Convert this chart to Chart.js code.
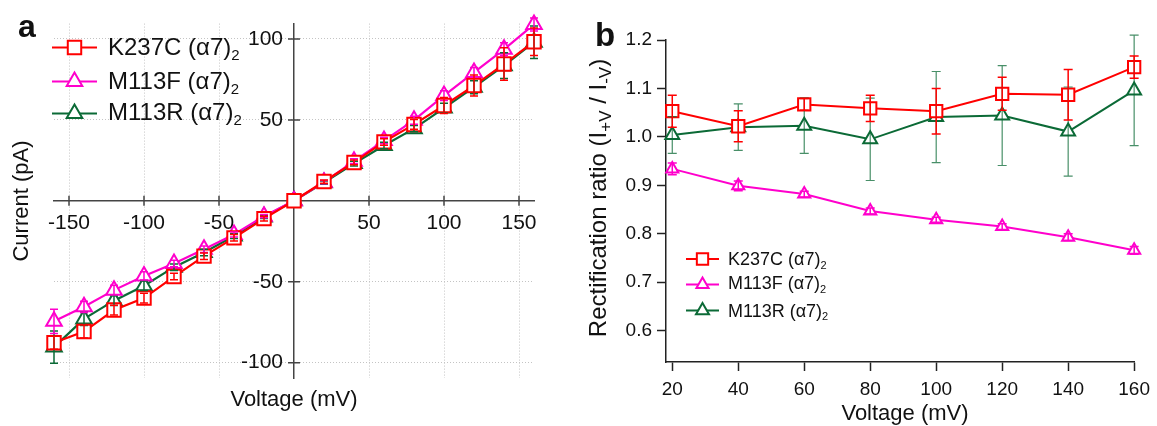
<!DOCTYPE html>
<html>
<head>
<meta charset="utf-8">
<script src="https://cdn.jsdelivr.net/npm/chart.js@4/dist/chart.umd.min.js"></script>
<style>
    html, body { margin: 0; padding: 0; background: #fff; }
    #wrap { position: relative; width: 1157px; height: 426px; overflow: hidden; }
    .panel { position: absolute; top: 0; height: 426px; }
</style>
</head>
<body>
<div id="wrap">
    <div class="panel" style="left:0;width:560px"><canvas id="chartA"></canvas></div>
    <div class="panel" style="left:560px;width:597px"><canvas id="chartB"></canvas></div>
</div>
<script>
(function () {
    'use strict';

    var FAM = '"Liberation Sans", Arial, Helvetica, sans-serif';
    var RED = '#ff0000', PINK = '#ff00cc', GREEN = '#0b6a36';
    var names = ['K237C (\u03b17)', 'M113F (\u03b17)', 'M113R (\u03b17)'];

    // panel a: current vs voltage
    var voltA = [-160, -140, -120, -100, -80, -60, -40, -20, 0, 20, 40, 60, 80, 100, 120, 140, 160];
    var k237cA = [-87.7, -80.8, -67.5, -60.1, -46.8, -34.2, -22.9, -11.0, 0, 11.9, 23.7, 36.4, 47.2, 58.9, 71.2, 84.5, 98.3];
    var m113fA = [-74.5, -65.5, -55.2, -46.4, -38.8, -30.0, -20.8, -9.5, 0, 11.5, 24.5, 37.2, 49.8, 65.0, 79.3, 93.6, 109.0];
    var m113rA = [-90.4, -73.0, -61.7, -52.5, -41.0, -32.0, -21.8, -10.0, 0, 11.2, 23.0, 34.2, 44.6, 57.3, 70.2, 83.5, 98.0];
    var k237cErrA = [4, 4, 3, 3, 2, 2, 2, 1.5, 0, 1, 1.5, 2, 3, 5, 6.5, 10, 8.5];
    var m113fErrA = [7.5, 3.5, 3, 2.5, 2, 2, 1.5, 1, 0, 1, 1.5, 2, 2.5, 3, 3, 4, 4];
    var m113rErrA = [10, 4, 3, 3, 2, 2, 1.5, 1, 0, 1, 1.5, 2, 2, 3, 4, 8, 10];
    var xTicksA = [-150, -100, -50, 50, 100, 150];
    var yTicksA = [-100, -50, 50, 100];

    // panel b: rectification ratio
    var voltB = [20, 40, 60, 80, 100, 120, 140, 160];
    var k237cB = [1.053, 1.022, 1.067, 1.059, 1.053, 1.089, 1.087, 1.144];
    var m113fB = [0.934, 0.899, 0.882, 0.847, 0.829, 0.815, 0.793, 0.766];
    var m113rB = [1.004, 1.020, 1.023, 0.995, 1.041, 1.044, 1.011, 1.096];
    var k237cErrB = [0.033, 0.032, 0.012, 0.027, 0.047, 0.034, 0.052, 0.023];
    var m113fErrB = [0.012, 0.010, 0.006, 0.006, 0.005, 0.006, 0.007, 0.008];
    var m113rErrB = [0.038, 0.048, 0.057, 0.085, 0.094, 0.103, 0.092, 0.114];
    var xTicksB = [20, 40, 60, 80, 100, 120, 140, 160];
    var yTicksB = [0.6, 0.7, 0.8, 0.9, 1.0, 1.1, 1.2];

    Chart.defaults.font.family = FAM;

    function pts(xs, ys) {
        return xs.map(function (x, i) { return { x: x, y: ys[i] }; });
    }

    function series(label, xs, ys, errs, color, style, r, errColor, errWidth) {
        return {
            label: label,
            data: pts(xs, ys),
            errors: errs,
            errColor: errColor || color,
            errWidth: errWidth || 1.5,
            borderColor: color,
            backgroundColor: '#fff',
            borderWidth: 2,
            pointStyle: style,
            pointRadius: r,
            pointHoverRadius: r,
            pointBorderWidth: 2,
            pointBorderColor: color,
            pointBackgroundColor: '#fff',
            tension: 0,
            clip: false,
        };
    }

    function marker(ctx, style, x, y, r) {
        ctx.beginPath();
        if (style === 'rect') {
            var s = Math.SQRT1_2 * r;
            ctx.rect(x - s, y - s, 2 * s, 2 * s);
        } else {
            var h = r * Math.sqrt(3) / 2;
            ctx.moveTo(x, y - r);
            ctx.lineTo(x + h, y + r / 2);
            ctx.lineTo(x - h, y + r / 2);
            ctx.closePath();
        }
        ctx.fillStyle = '#fff';
        ctx.fill();
        ctx.stroke();
    }

    // text with subscripts: parts = [[text, isSub], ...], y is the baseline
    function rich(ctx, parts, x, y, size, align, bold, subRatio) {
        var w = 0;
        var weight = bold ? 'bold ' : '';
        var subSize = Math.round(size * (subRatio || 0.62));
        parts.forEach(function (p) {
            ctx.font = weight + (p[1] ? subSize : size) + 'px ' + FAM;
            w += ctx.measureText(p[0]).width;
        });
        var cx = align === 'center' ? x - w / 2 : x;
        ctx.textAlign = 'left';
        ctx.textBaseline = 'alphabetic';
        parts.forEach(function (p) {
            ctx.font = weight + (p[1] ? subSize : size) + 'px ' + FAM;
            ctx.fillText(p[0], cx, y + (p[1] ? size * 0.22 : 0));
            cx += ctx.measureText(p[0]).width;
        });
    }

    var errorBars = {
        id: 'errorBars',
        afterDatasetsDraw: function (chart, args, opts) {
            var ctx = chart.ctx;
            var xs = chart.scales.x, ys = chart.scales.y;
            var cap = opts.cap || 4;
            for (var i = chart.data.datasets.length - 1; i >= 0; i--) {
                var ds = chart.data.datasets[i];
                if (!ds.errors) continue;
                ctx.save();
                ctx.strokeStyle = ds.errColor;
                ctx.lineWidth = ds.errWidth;
                ds.data.forEach(function (p, j) {
                    var e = ds.errors[j];
                    if (!e) return;
                    var px = xs.getPixelForValue(p.x);
                    var top = ys.getPixelForValue(p.y + e);
                    var bot = ys.getPixelForValue(p.y - e);
                    ctx.beginPath();
                    ctx.moveTo(px, top); ctx.lineTo(px, bot);
                    ctx.moveTo(px - cap, top); ctx.lineTo(px + cap, top);
                    ctx.moveTo(px - cap, bot); ctx.lineTo(px + cap, bot);
                    ctx.stroke();
                });
                ctx.restore();
            }
        }
    };

    function legendPlugin(cfg) {
        return {
            id: 'legendRows',
            afterDraw: function (chart) {
                var ctx = chart.ctx;
                chart.data.datasets.forEach(function (ds, i) {
                    var y = cfg.rows[i];
                    ctx.save();
                    ctx.strokeStyle = ds.borderColor;
                    ctx.lineWidth = ds.borderWidth;
                    ctx.beginPath();
                    ctx.moveTo(cfg.x0, y);
                    ctx.lineTo(cfg.x1, y);
                    ctx.stroke();
                    ctx.lineWidth = ds.pointBorderWidth;
                    marker(ctx, ds.pointStyle, (cfg.x0 + cfg.x1) / 2, y, cfg.r[i]);
                    ctx.fillStyle = '#111';
                    rich(ctx, [[ds.label, false], ['2', true]], cfg.tx, cfg.base[i], cfg.size, 'left');
                    ctx.restore();
                });
            }
        };
    }

    function textPlugin(items) {
        return {
            id: 'texts',
            afterDraw: function (chart) {
                var ctx = chart.ctx;
                items.forEach(function (it) {
                    ctx.save();
                    ctx.translate(it.x, it.y);
                    if (it.rot) ctx.rotate(-Math.PI / 2);
                    ctx.fillStyle = '#111';
                    rich(ctx, it.parts, 0, 0, it.size, it.align || 'center', it.bold, it.sub);
                    ctx.restore();
                });
            }
        };
    }

    // ticks that cross the centred axes of panel a
    var crossTicks = {
        id: 'crossTicks',
        afterDraw: function (chart) {
            var ctx = chart.ctx, x = chart.scales.x, y = chart.scales.y;
            var x0 = x.getPixelForValue(0), y0 = y.getPixelForValue(0);
            ctx.save();
            ctx.strokeStyle = '#444';
            ctx.lineWidth = 1.5;
            ctx.beginPath();
            x.ticks.forEach(function (t) {
                var px = x.getPixelForValue(t.value);
                ctx.moveTo(px, y0 - 5); ctx.lineTo(px, y0 + 5);
            });
            y.ticks.forEach(function (t) {
                var py = y.getPixelForValue(t.value);
                ctx.moveTo(x0 - 6, py); ctx.lineTo(x0 + 6, py);
            });
            ctx.stroke();
            ctx.restore();
        }
    };

    function fixedTicks(values) {
        return function (scale) {
            scale.ticks = values.map(function (v) { return { value: v }; });
        };
    }

    var dsA = [
        series(names[0], voltA, k237cA, k237cErrA, RED, 'rect', 9.5),
        series(names[1], voltA, m113fA, m113fErrA, PINK, 'triangle', 9),
        series(names[2], voltA, m113rA, m113rErrA, GREEN, 'triangle', 9),
    ];
    dsA.forEach(function (d) { d.borderWidth = 2.2; });

    new Chart(document.getElementById('chartA'), {
        type: 'line',
        data: { datasets: dsA },
        options: {
            responsive: true,
            maintainAspectRatio: false,
            animation: false,
            devicePixelRatio: 1,
            layout: { padding: { left: 54, right: 26, top: 23, bottom: 48 } },
            plugins: { legend: { display: false }, tooltip: { enabled: false }, errorBars: { cap: 4 } },
            scales: {
                x: {
                    type: 'linear', min: -160, max: 160, position: { y: 0 },
                    afterBuildTicks: fixedTicks(xTicksA),
                    ticks: { font: { size: 21 }, color: '#111', padding: 10, maxRotation: 0, autoSkip: false },
                    grid: { color: '#c4c4c4', lineWidth: 1, drawTicks: false },
                    border: { display: true, color: '#444', width: 1.5, dash: [1, 2] },
                },
                y: {
                    // symmetric x range, so the centre of the plot is x = 0
                    type: 'linear', min: -109.5, max: 109.5, position: 'center',
                    afterBuildTicks: fixedTicks(yTicksA),
                    ticks: { font: { size: 21 }, color: '#111', padding: 11 },
                    grid: { color: '#c4c4c4', lineWidth: 1, drawTicks: false },
                    border: { display: true, color: '#444', width: 1.5, dash: [1, 2] },
                },
            },
        },
        plugins: [
            errorBars, crossTicks,
            legendPlugin({ x0: 52, x1: 97, tx: 108, rows: [47.5, 81.5, 113.5], base: [55, 89, 120], size: 24, r: [9.5, 9, 9] }),
            textPlugin([
                { x: 18, y: 37, parts: [['a', false]], size: 32, bold: true, align: 'left' },
                { x: 28, y: 201, rot: true, parts: [['Current (pA)', false]], size: 22 },
                { x: 294, y: 406, parts: [['Voltage (mV)', false]], size: 22 },
            ]),
        ],
    });

    var dsB = [
        series(names[0], voltB, k237cB, k237cErrB, RED, 'rect', 8.7),
        series(names[1], voltB, m113fB, m113fErrB, PINK, 'triangle', 7),
        series(names[2], voltB, m113rB, m113rErrB, GREEN, 'triangle', 8, 'rgba(11,106,54,0.75)', 1.2),
    ];

    new Chart(document.getElementById('chartB'), {
        type: 'line',
        data: { datasets: dsB },
        options: {
            responsive: true,
            maintainAspectRatio: false,
            animation: false,
            devicePixelRatio: 1,
            layout: { padding: { left: 36, right: 20, top: 40, bottom: 20 } },
            plugins: { legend: { display: false }, tooltip: { enabled: false }, errorBars: { cap: 4.5 } },
            scales: {
                x: {
                    type: 'linear', min: 18.1, max: 160, position: 'bottom',
                    afterBuildTicks: fixedTicks(xTicksB),
                    afterFit: function (s) { s.height = 44; },
                    ticks: { font: { size: 19 }, color: '#111', padding: 7, maxRotation: 0, autoSkip: false },
                    grid: { drawOnChartArea: false, drawTicks: true, tickLength: 9, tickColor: '#222', tickWidth: 1.5 },
                    border: { display: true, color: '#222', width: 1.5 },
                },
                y: {
                    type: 'linear', min: 0.5354, max: 1.2, position: 'left',
                    afterBuildTicks: fixedTicks(yTicksB),
                    afterFit: function (s) { s.width = 70; },
                    ticks: {
                        font: { size: 19 }, color: '#111', padding: 5,
                        callback: function (v) { return Number(v).toFixed(1); },
                    },
                    grid: { drawOnChartArea: false, drawTicks: true, tickLength: 9, tickColor: '#222', tickWidth: 1.5 },
                    border: { display: true, color: '#222', width: 1.5 },
                },
            },
        },
        plugins: [
            errorBars,
            legendPlugin({ x0: 126, x1: 159, tx: 168, rows: [259, 284.5, 310.5], base: [265, 289, 316.5], size: 18, r: [8, 7, 7.5] }),
            textPlugin([
                { x: 35, y: 46, parts: [['b', false]], size: 33, bold: true, align: 'left' },
                { x: 46, y: 198, rot: true, size: 24, sub: 0.7, parts: [
                    ['Rectification ratio (I', false], ['+V', true], [' / I', false], ['-V', true], [')', false]
                ] },
                { x: 345, y: 420, parts: [['Voltage (mV)', false]], size: 22 },
            ]),
        ],
    });
})();
</script>
</body>
</html>
